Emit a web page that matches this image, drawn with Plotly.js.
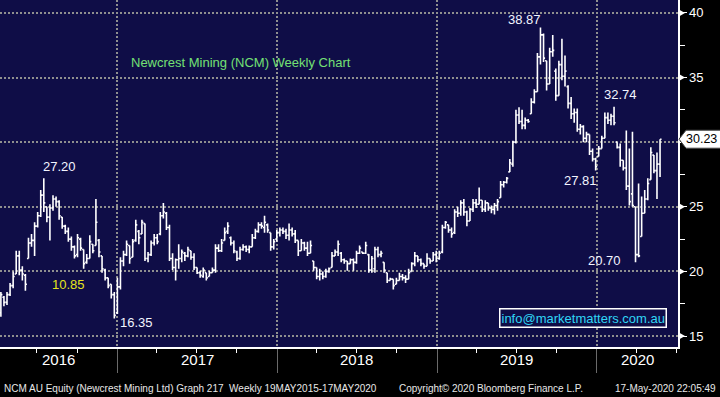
<!DOCTYPE html>
<html>
<head>
<meta charset="utf-8">
<script src="https://cdn.plot.ly/plotly-3.0.1.min.js"></script>
<style>
  html, body { margin: 0; padding: 0; background: #000; }
  #chart { width: 720px; height: 397px; }
</style>
</head>
<body>
<div id="chart"></div>
<script>
// Weekly bars, first week ending 2016-04-10
const firstWeek = '2016-04-10';

const openPx = [
16.8,18.0,17.6,18.2,18.9,19.8,21.2,20.1,19.7,21.0,
22.2,22.4,23.5,24.3,25.9,25.0,24.2,24.9,25.6,25.4,
24.2,23.5,23.1,22.5,21.9,21.3,22.5,21.7,20.7,21.0,
22.1,22.0,22.4,21.2,20.1,19.5,19.0,18.2,16.8,18.8,
20.8,21.3,22.0,21.1,22.4,23.1,22.9,23.7,21.0,21.3,
22.2,22.6,22.9,24.3,24.5,23.4,21.0,20.3,20.9,21.0,
21.4,21.2,21.6,21.1,20.3,19.9,19.6,19.9,19.6,19.9,
20.1,21.8,21.6,22.4,23.1,22.6,22.2,21.5,21.0,21.7,
21.9,21.7,21.9,22.6,23.1,23.6,23.4,23.6,23.0,21.9,
22.5,23.0,23.2,23.1,22.8,23.2,22.9,22.4,21.6,22.2,
21.8,21.4,20.8,20.3,19.6,19.8,19.6,20.0,20.3,21.2,
21.5,21.4,20.9,20.8,20.6,20.9,20.7,21.4,21.5,21.4,
21.3,20.1,20.2,21.7,21.3,20.7,19.9,19.3,19.4,19.0,
19.3,19.6,19.5,19.4,20.0,20.6,21.2,20.9,20.6,20.4,
21.0,20.8,21.3,21.0,21.5,23.4,23.6,23.2,23.0,24.6,
24.5,25.3,24.6,23.9,24.8,25.3,25.2,25.5,24.8,25.3,
24.9,24.8,25.1,25.7,26.7,26.9,27.7,28.3,30.0,32.1,
31.6,31.3,31.7,32.2,33.1,33.9,36.6,38.3,36.3,34.5,
37.0,35.5,33.6,36.0,35.1,34.3,33.0,32.2,32.3,31.0,
31.2,30.3,30.6,29.3,28.7,28.9,29.5,30.3,31.9,31.7,
32.0,30.0,29.6,28.6,28.0,26.6,26.0,25.0,21.3,22.7,
24.5,25.6,27.1,29.0,27.8,28.3
];
const highPx = [
18.4,18.1,18.4,19.1,20.0,21.6,21.6,20.4,19.8,22.6,
22.9,23.8,24.6,26.3,27.2,25.0,25.2,25.9,25.8,25.5,
24.2,23.6,23.4,22.7,22.0,22.9,22.6,21.7,21.35,22.8,
22.1,25.6,22.5,21.2,20.2,19.5,19.0,18.4,19.5,21.1,
21.6,22.4,22.0,22.5,24.0,23.2,24.0,23.7,21.5,22.4,
22.9,22.9,24.6,25.3,24.6,23.6,21.4,21.0,22.1,21.7,
21.5,21.9,21.6,21.4,20.3,20.05,20.3,19.9,20.05,20.3,
22.1,22.1,22.5,23.4,23.8,22.7,22.4,21.6,21.9,22.1,
22.0,22.0,22.9,23.3,23.8,23.8,24.3,23.7,23.0,22.5,
23.2,23.4,23.4,23.3,23.7,23.4,23.2,22.4,22.5,22.3,
22.3,22.4,20.8,20.3,20.2,20.0,20.2,20.3,21.5,21.7,
22.4,21.5,21.0,20.8,21.0,21.0,21.6,22.0,21.5,22.3,
21.35,21.2,21.9,21.9,21.6,20.7,19.9,19.5,19.4,19.5,
19.9,19.8,19.7,20.2,20.7,21.5,21.2,21.0,20.6,21.4,
21.0,21.5,21.6,21.6,23.6,23.9,23.6,23.4,24.8,25.0,
25.5,25.6,24.7,24.9,25.6,25.6,26.5,25.5,25.5,25.3,
25.1,25.3,25.6,27.0,27.0,27.3,28.7,30.1,32.5,32.7,
32.5,31.9,31.8,33.4,34.1,36.9,38.87,38.4,36.3,37.3,
38.3,35.7,36.3,38.0,36.7,34.4,33.5,32.6,32.6,31.4,
31.3,30.8,30.6,29.5,28.8,29.7,30.5,32.3,32.3,32.2,
32.74,30.0,29.9,28.6,30.9,29.5,30.8,25.0,26.8,25.8,
26.3,27.2,29.6,29.0,29.2,30.23
];
const lowPx = [
16.5,17.3,17.4,18.1,18.7,19.8,19.7,19.3,18.5,21.0,
21.9,21.2,23.4,24.2,24.6,23.8,22.4,24.7,25.0,24.0,
23.3,22.9,22.3,21.6,21.0,21.1,21.6,20.2,20.6,21.0,
21.4,22.0,21.1,19.9,19.3,18.7,17.9,16.35,16.7,18.6,
20.4,21.2,20.6,21.1,22.3,22.1,22.9,20.8,20.7,21.2,
22.0,22.1,22.8,24.1,23.2,20.8,20.1,19.3,20.2,20.7,
20.8,21.1,20.9,20.1,19.8,19.5,19.5,19.3,19.6,19.9,
19.9,21.5,21.5,22.4,22.9,22.0,21.4,20.8,20.9,21.6,
21.5,21.4,21.9,22.5,23.0,23.3,23.0,23.0,21.6,21.7,
22.3,22.7,22.9,22.5,22.4,22.7,22.2,21.2,21.6,21.6,
21.2,21.4,20.05,19.4,19.3,19.4,19.5,19.9,20.3,21.2,
21.2,20.7,20.6,20.05,20.6,20.05,20.6,21.35,21.35,21.35,
19.9,19.9,19.9,21.1,21.1,19.9,19.1,19.3,18.6,19.0,
19.3,19.3,19.1,19.4,20.0,20.4,20.7,20.4,20.2,20.4,
20.6,20.8,20.7,20.9,21.4,23.3,23.0,22.6,22.9,24.2,
24.3,24.3,23.5,23.9,24.6,24.9,25.2,24.6,24.6,24.7,
24.5,24.4,24.7,25.7,26.5,26.8,27.7,28.1,29.9,31.4,
31.0,31.0,31.5,32.2,33.0,33.9,36.0,36.2,34.0,34.5,
36.6,33.2,33.6,34.8,34.3,32.6,31.8,31.5,30.8,30.6,
30.0,30.0,29.0,28.5,27.81,28.9,29.5,30.3,31.4,31.3,
31.3,29.5,28.1,27.8,26.3,25.1,25.0,20.7,21.1,22.7,
24.5,25.5,27.1,27.6,25.6,27.3
];
const closePx = [
18.2,17.6,18.2,18.9,19.6,21.2,20.1,19.8,19.0,22.2,
22.4,23.5,24.3,25.9,25.3,24.2,24.9,25.6,25.4,24.3,
23.5,23.1,22.5,21.9,21.2,22.6,21.8,20.6,21.0,22.3,
21.6,23.8,21.5,20.2,19.5,18.9,18.2,16.6,18.8,20.8,
21.3,22.1,21.0,22.3,23.6,22.6,23.8,21.0,21.3,22.2,
22.6,22.3,24.3,24.6,23.4,21.0,20.3,20.9,21.0,21.5,
21.2,21.7,21.1,20.3,19.9,19.7,20.1,19.5,19.9,20.1,
21.8,21.6,22.2,23.0,23.5,22.2,21.6,21.0,21.7,21.9,
21.7,21.9,22.6,23.1,23.6,23.5,23.8,23.2,21.9,22.3,
23.0,23.2,23.1,22.8,23.2,22.9,22.4,21.6,22.2,21.8,
21.4,22.0,20.3,19.6,19.8,19.6,20.0,20.2,21.2,21.5,
22.1,20.9,20.8,20.6,20.9,20.7,21.4,21.8,21.4,22.0,
20.1,21.0,21.7,21.3,21.4,20.1,19.3,19.4,18.9,19.3,
19.6,19.5,19.4,19.9,20.6,21.2,20.9,20.6,20.4,21.0,
20.8,21.3,21.0,21.4,23.4,23.8,23.2,22.9,24.6,24.5,
25.3,24.6,23.9,24.8,25.3,25.2,25.5,24.8,25.3,24.9,
24.8,25.1,25.4,26.7,26.9,27.2,28.4,30.0,32.1,31.6,
31.3,31.7,31.6,33.1,33.9,36.6,38.3,36.5,34.5,37.0,
37.1,33.6,36.0,35.1,35.5,33.0,32.2,32.3,31.0,31.2,
30.3,30.6,29.3,28.7,28.1,29.5,30.3,31.9,31.7,32.0,
31.5,29.6,28.6,28.0,26.6,25.4,25.1,21.3,21.2,24.5,
25.6,26.8,29.2,27.8,28.3,30.23
];

const yearLabels = ['2016', '2017', '2018', '2019', '2020'];
const yearLabelDates = ['2016-08-20', '2017-07-02', '2018-07-02', '2019-07-02', '2020-04-02'];
const yearStarts = ['2017-01-01', '2018-01-01', '2019-01-01', '2020-01-01'];
const priceTicks = [15, 20, 25, 30, 35, 40];
const lastPrice = 30.23;

// weekly dates
const weeks = [];
{
  const d0 = new Date(firstWeek + 'T00:00:00Z');
  for (let i = 0; i < closePx.length; i++) {
    const d = new Date(d0.getTime() + i * 7 * 86400000);
    weeks.push(d.toISOString().slice(0, 10));
  }
}

const navy = '#0f0d47';
const gridCol = '#8f8f8f';
const labelFont = 'Liberation Sans, Arial, sans-serif';
const narrowFont = 'Liberation Sans Narrow, Arial Narrow, Liberation Sans, sans-serif';

const trace = {
  type: 'ohlc',
  x: weeks,
  open: openPx, high: highPx, low: lowPx, close: closePx,
  increasing: { line: { color: '#ffffff', width: 1.6 } },
  decreasing: { line: { color: '#ffffff', width: 1.6 } },
  tickwidth: 0.5,
  hoverinfo: 'skip'
};

function priceLabel(text, px, val, color) {
  return { text: text, xref: 'paper', yref: 'y', x: px / 678, y: val, xanchor: 'center', yanchor: 'middle',
    showarrow: false, font: { family: labelFont, size: 13, color: color || '#f2f5ff' } };
}

const annotations = [
  { text: 'Newcrest Mining (NCM) Weekly Chart', xref: 'paper', yref: 'y', x: 129/678, y: 36.13,
    xanchor: 'left', yanchor: 'middle', showarrow: false, font: { family: labelFont, size: 13, color: '#74e074' } },
  priceLabel('27.20', 59, 28.08),
  priceLabel('10.85', 68, 18.95, '#e4e41c'),
  priceLabel('16.35', 136, 16.01),
  priceLabel('38.87', 524, 39.46),
  priceLabel('27.81', 580, 27.07),
  priceLabel('32.74', 620, 33.65),
  priceLabel('20.70', 604, 20.88),
  { text: 'info@marketmatters.com.au', xref: 'paper', yref: 'y', x: 583/678, y: 16.39,
    xanchor: 'center', yanchor: 'middle', showarrow: false,
    bordercolor: '#ffffff', borderwidth: 1.5, borderpad: 1, bgcolor: navy,
    font: { family: labelFont, size: 13, color: '#2fd6f5' } },
  { text: String(lastPrice), xref: 'paper', yref: 'y', x: 1, y: lastPrice, xanchor: 'left', xshift: 6,
    yanchor: 'middle', showarrow: false, font: { family: labelFont, size: 12.5, color: '#000000' } },
  // footer
  { text: 'NCM AU Equity (Newcrest Mining Ltd) Graph 217  Weekly 19MAY2015-17MAY2020', xref: 'paper', yref: 'paper',
    x: 2/678, y: -41/347, xanchor: 'left', yanchor: 'middle', showarrow: false,
    font: { family: narrowFont, size: 10, color: '#e8e8e8' } },
  { text: 'Copyright\u00a9 2020 Bloomberg Finance L.P.', xref: 'paper', yref: 'paper',
    x: 397/678, y: -41/347, xanchor: 'left', yanchor: 'middle', showarrow: false,
    font: { family: narrowFont, size: 10, color: '#e8e8e8' } },
  { text: '17-May-2020 22:05:49', xref: 'paper', yref: 'paper',
    x: 718/678, y: -41/347, xanchor: 'right', yanchor: 'middle', showarrow: false,
    font: { family: narrowFont, size: 10, color: '#e8e8e8' } }
];
yearLabels.forEach((t, k) => annotations.push({
  text: t, xref: 'x', yref: 'paper', x: yearLabelDates[k], y: -12/347, xanchor: 'center', yanchor: 'middle',
  showarrow: false, font: { family: narrowFont, size: 15, color: '#ffffff' }
}));

const shapes = [];
priceTicks.filter(v => v !== 30).forEach(v => shapes.push({
  type: 'path', xref: 'paper', yref: 'y', xsizemode: 'pixel', ysizemode: 'pixel',
  xanchor: 1, yanchor: v, path: 'M0,-4 L7,0 L0,4 Z', fillcolor: '#ffffff', line: { width: 0 }
}));
shapes.push({
  type: 'path', xref: 'paper', yref: 'y', xsizemode: 'pixel', ysizemode: 'pixel',
  xanchor: 1, yanchor: lastPrice, path: 'M1,0 L8,-9 L44,-9 L44,9 L8,9 Z',
  fillcolor: '#ffffff', line: { color: '#444', width: 1 }
});

const layout = {
  width: 720, height: 397,
  margin: { l: 0, r: 42, t: 0, b: 50, pad: 0 },
  paper_bgcolor: '#000000',
  plot_bgcolor: navy,
  showlegend: false,
  hovermode: false,
  dragmode: false,
  xaxis: {
    type: 'date',
    range: ['2016-04-08', '2020-07-04'],
    rangeslider: { visible: false },
    tickvals: yearStarts,
    showticklabels: false,
    ticks: 'outside', ticklen: 24, tickcolor: '#6a6a6a', tickwidth: 1,
    showgrid: true, gridcolor: gridCol, gridwidth: 2, griddash: '2px,2px',
    showline: true, linecolor: '#ffffff', linewidth: 1.5,
    minor: { dtick: 'M3', tick0: '2016-01-01', ticks: 'outside', ticklen: 4, tickcolor: '#ffffff', tickwidth: 1, showgrid: false },
    zeroline: false, fixedrange: true
  },
  yaxis: {
    side: 'right',
    range: [14.15, 41.0],
    tickvals: priceTicks,
    ticktext: priceTicks.map(v => (v === 30 ? '' : String(v))),
    ticks: 'outside', ticklen: 7, tickcolor: '#ffffff', tickwidth: 1,
    minor: { dtick: 2.5, tick0: 0, ticks: 'outside', ticklen: 5, tickcolor: '#ffffff', showgrid: false },
    tickfont: { family: labelFont, size: 13, color: '#ffffff' },
    showgrid: true, gridcolor: gridCol, gridwidth: 2, griddash: '2px,2px',
    showline: true, linecolor: '#ffffff', linewidth: 1.5,
    zeroline: false, fixedrange: true
  },
  annotations: annotations,
  shapes: shapes
};

Plotly.newPlot('chart', [trace], layout, { staticPlot: true, displayModeBar: false });
</script>
</body>
</html>
